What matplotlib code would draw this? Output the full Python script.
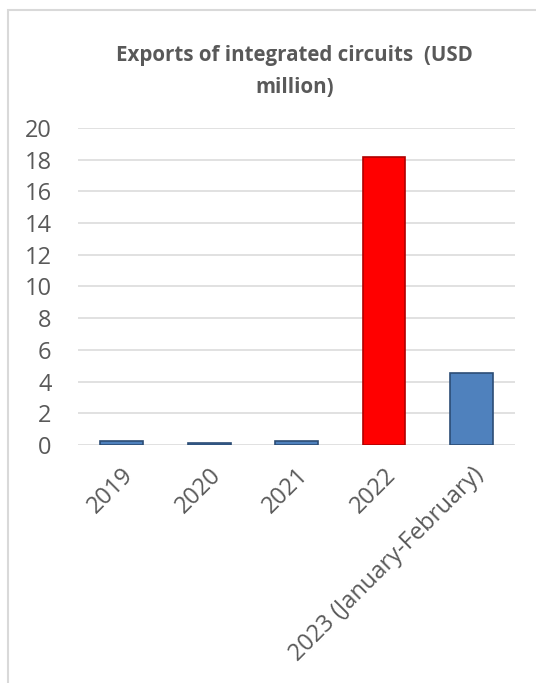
import matplotlib.pyplot as plt
from matplotlib.patches import Rectangle

# data
years = ["2019", "2020", "2021", "2022", "2023 (January-February)"]
exports = [0.27, 0.12, 0.23, 18.2, 4.55]
colors = ["#4F81BD", "#4F81BD", "#4F81BD", "#FF0000", "#4F81BD"]
edges = ["#2C4D75", "#2C4D75", "#2C4D75", "#B00000", "#2C4D75"]
yticks = [0, 2, 4, 6, 8, 10, 12, 14, 16, 18, 20]

plt.rcParams['font.family'] = ['Open Sans', 'DejaVu Sans']
grey = "#595959"

fig = plt.figure(figsize=(5.36, 6.83), dpi=100)
# light frame around the chart area (like the Excel chart border)
fig.patches.append(Rectangle((8 / 536, -0.01), 1.0, 1 - 10 / 683 + 0.01,
                             transform=fig.transFigure, fill=False,
                             edgecolor="#D9D9D9", linewidth=1.5))

ax = fig.add_axes([0.1455, 0.3485, 0.8155, 0.4641])
x = list(range(len(years)))
ax.bar(x, exports, width=0.49, color=colors, edgecolor=edges, linewidth=1.2, zorder=3)

ax.set_xlim(-0.5, 4.5)
ax.set_ylim(0, 20)
ax.set_yticks(yticks)
ax.set_yticklabels([str(t) for t in yticks], fontsize=17, color=grey)
ax.set_xticks(x)
ax.set_xticklabels(years, rotation=45, ha="right", rotation_mode="anchor",
                   fontsize=17, color=grey)
ax.tick_params(axis="both", length=0)
ax.tick_params(axis="x", pad=13)
ax.tick_params(axis="y", pad=19)
ax.grid(axis="y", color="#D9D9D9", linewidth=1.1, zorder=0)
for s in ax.spines.values():
    s.set_visible(False)

fig.text(0.55, 0.895, "Exports of integrated circuits  (USD\nmillion)",
         ha="center", va="center", fontsize=14.8, fontweight="bold",
         color=grey, linespacing=1.7)

fig.savefig("out.png", dpi=100)
